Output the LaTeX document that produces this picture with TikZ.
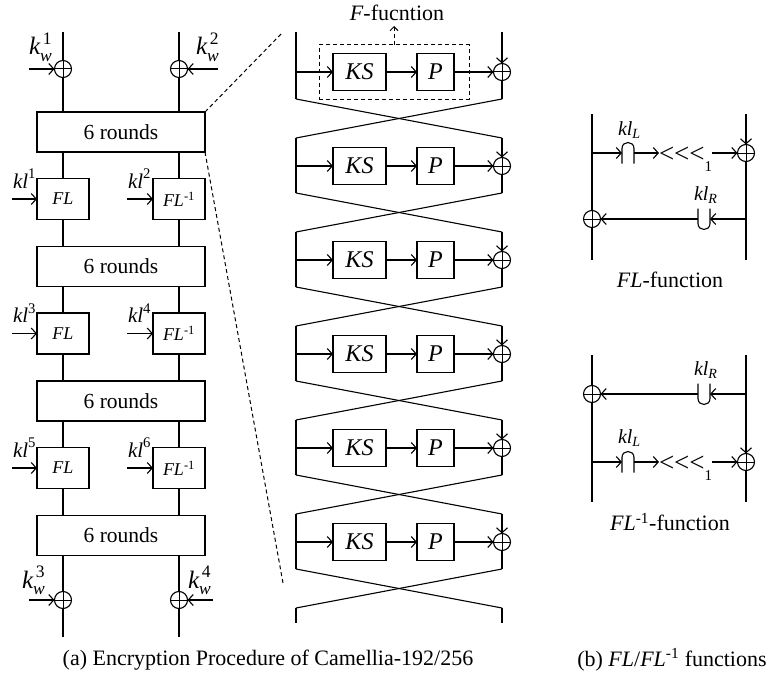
\documentclass[tikz,border=0pt]{standalone}
\usepackage{amsmath}
\usepackage{fontspec}
\setmainfont{Liberation Serif}
\usetikzlibrary{arrows.meta,calc}
\newcommand\fsz[1]{\fontsize{#1}{#1}\selectfont}
\newcommand\capshape[1]{\draw (#1.south west) -- ($(#1.north west)+(0,6)$) .. controls ($(#1.north west)+(0,-2)$) and ($(#1.north east)+(0,-2)$) .. ($(#1.north east)+(0,6)$) -- (#1.south east);}
\newcommand\cupshape[1]{\draw (#1.north west) -- ($(#1.south west)+(0,-6)$) .. controls ($(#1.south west)+(0,2)$) and ($(#1.south east)+(0,2)$) .. ($(#1.south east)+(0,-6)$) -- (#1.north east);}
\newcommand\rotl{<{}<{}<\raisebox{-9pt}{\fsz{15}1}}
\begin{document}
\begin{tikzpicture}[x=1pt,y=-1pt,line width=1.1pt,
  every node/.style={inner sep=0pt,outer sep=0pt},
  ar/.style={-{Straight Barb[length=5pt,width=11pt]}},
  sar/.style={-{Straight Barb[length=4pt,width=8pt]}},
  blk/.style={draw,fill=white},
  rounds/.style={blk,minimum width=168pt,minimum height=40pt,font=\fsz{21.5}},
  flbox/.style={blk,minimum width=52pt,minimum height=41pt,font=\fsz{18}\itshape},
  ksbox/.style={blk,minimum width=53pt,minimum height=37pt,font=\fsz{24}\itshape},
  pbox/.style={blk,minimum width=37pt,minimum height=37pt,font=\fsz{24}\itshape},
  xorc/.style={draw,fill=white,circle,minimum size=17pt,path picture={\draw[line width=1pt] (path picture bounding box.north) -- (path picture bounding box.south) (path picture bounding box.west) -- (path picture bounding box.east);}},
  hole/.style={minimum width=12pt,minimum height=21pt},
  lab/.style={font=\fsz{22}},
  keylab/.style={font=\fsz{25},anchor=base west},
  kllab/.style={font=\fsz{21},anchor=base west},
  dsh/.style={dash pattern=on 4pt off 3pt,line width=1pt},
]
\useasboundingbox (0,0) rectangle (766,677);

% ---------------- left: encryption procedure ----------------
\coordinate (tL) at (63,32);
\coordinate (tR) at (179,32);
\node[xorc] (x1) at (63,69) {};
\node[xorc] (x2) at (179,69) {};
\node[rounds] (r1) at (121,132) {6 rounds};
\node[flbox] (fl1) at (63,199) {FL};
\node[flbox] (fi1) at (179,199) {FL\textsuperscript{\upshape -1}};
\node[rounds] (r2) at (121,266.5) {6 rounds};
\node[flbox] (fl2) at (63,333.5) {FL};
\node[flbox] (fi2) at (179,333.5) {FL\textsuperscript{\upshape -1}};
\node[rounds] (r3) at (121,401) {6 rounds};
\node[flbox] (fl3) at (63,468) {FL};
\node[flbox] (fi3) at (179,468) {FL\textsuperscript{\upshape -1}};
\node[rounds] (r4) at (121,535.5) {6 rounds};
\node[xorc] (x3) at (63,600) {};
\node[xorc] (x4) at (179,600) {};
\coordinate (bL) at (63,637);
\coordinate (bR) at (179,637);

\draw (tL) -- (x1.north);
\draw (tR) -- (x2.north);
\draw (x1.south) -- (x1 |- r1.north);
\draw (x2.south) -- (x2 |- r1.north);
\foreach \a/\b/\c/\n in {r1/fl1/fi1/r2, r2/fl2/fi2/r3, r3/fl3/fi3/r4}{
  \draw (\b |- \a.south) -- (\b.north);
  \draw (\c |- \a.south) -- (\c.north);
  \draw (\b.south) -- (\b |- \n.north);
  \draw (\c.south) -- (\c |- \n.north);
}
\draw (x3 |- r4.south) -- (x3.north);
\draw (x4 |- r4.south) -- (x4.north);
\draw (x3.south) -- (bL);
\draw (x4.south) -- (bR);

% key inputs
\coordinate (k1s) at (29,69);
\coordinate (k2s) at (218,69);
\coordinate (k3s) at (29,600);
\coordinate (k4s) at (213,600);
\draw[ar] (k1s) -- (x1.west);
\draw[ar] (k2s) -- (x2.east);
\draw[ar] (k3s) -- (x3.west);
\draw[ar] (k4s) -- (x4.east);
\node[keylab] (kw1) at (29,55) {$\textit{k}_{\textit{w}}^{\,\text{1}}$};
\node[keylab] (kw2) at (196,55) {$\textit{k}_{\textit{w}}^{\,\text{2}}$};
\node[keylab] (kw3) at (22,588) {$\textit{k}_{\textit{w}}^{\,\text{3}}$};
\node[keylab] (kw4) at (188,588) {$\textit{k}_{\textit{w}}^{\,\text{4}}$};

\foreach \b/\c/\y/\p/\q in {fl1/fi1/199/1/2, fl2/fi2/333.5/3/4, fl3/fi3/468/5/6}{
  \coordinate (ka\p) at (12,\y);
  \coordinate (ka\q) at (127,\y);
  \draw[ar] (ka\p) -- (\b.west);
  \draw[ar] (ka\q) -- (\c.west);
  \node[kllab] (kl\p) at ($(13,\y)+(0,-11)$) {$\textit{kl}^{\text{\p}}$};
  \node[kllab] (kl\q) at ($(128,\y)+(0,-11)$) {$\textit{kl}^{\text{\q}}$};
}

% zoom lines
\coordinate (z1) at (283,32);
\coordinate (z2) at (283,583);
\draw[dsh] (r1.north east) -- (z1);
\draw[dsh] (r1.south east) -- (z2);

% ---------------- middle: six Feistel rounds ----------------
\foreach \i in {0,...,5}{
  \pgfmathsetmacro{\yy}{72+94*\i}
  \pgfmathsetmacro{\yt}{ifthenelse(\i==0,32,\yy-28)}
  \pgfmathsetmacro{\yb}{\yy+27}
  \coordinate (lt\i) at (296,\yt);
  \coordinate (lb\i) at (296,\yb);
  \coordinate (la\i) at (296,\yy);
  \coordinate (rt\i) at (502,\yt);
  \coordinate (rb\i) at (502,\yb);
  \node[ksbox] (ks\i) at (359.5,\yy) {KS};
  \node[pbox] (p\i) at (435.5,\yy) {P};
  \node[xorc] (xr\i) at (502,\yy) {};
  \draw (lt\i) -- (lb\i);
  \draw[ar] (la\i) -- (ks\i.west);
  \draw[ar] (ks\i.east) -- (p\i.west);
  \draw[ar] (p\i.east) -- (xr\i.west);
  \draw[ar] (rt\i) -- (xr\i.north);
  \draw (xr\i.south) -- (rb\i);
}
\coordinate (lt6) at (296,608);
\coordinate (rt6) at (502,608);
\coordinate (le) at (296,623);
\coordinate (re) at (502,623);
\foreach \i [evaluate=\i as \j using int(\i+1)] in {0,...,5}{
  \draw (lb\i) -- (rt\j);
  \draw (rb\i) -- (lt\j);
}
\draw (lt6) -- (le);
\draw (rt6) -- (re);

% F-function box
\node[draw,dsh,minimum width=150pt,minimum height=54pt] (fbox) at (394,72) {};
\coordinate (fa) at (394,26);
\draw[dsh,sar] (fbox.north) -- (fa);
\node[lab] (flab) at (397,13) {\textit{F}-fucntion};

% ---------------- right: FL function ----------------
\coordinate (AlT) at (592,114);
\coordinate (AlB) at (592,260);
\coordinate (ArT) at (746,114);
\coordinate (ArB) at (746,260);
\coordinate (Acs) at (592,153);
\coordinate (Aus) at (746,219);
\node[xorc] (xA) at (746,153) {};
\node[xorc] (xB) at (592,219) {};
\node[hole] (capA) at (628,153) {};
\node[hole] (cupA) at (704,219) {};
\node[font=\fsz{27},anchor=base west] (shA) at (659,162) {\rotl};
\draw (AlT) -- (xB.north);
\draw (xB.south) -- (AlB);
\draw[ar] (ArT) -- (xA.north);
\draw (xA.south) -- (ArB);
\capshape{capA}
\cupshape{cupA}
\draw[ar] (Acs) -- (capA.west);
\draw[ar] (capA.east) -- (shA.west |- capA);
\draw[ar] (shA.east |- capA) -- (xA.west);
\draw[ar] (Aus) -- (cupA.east);
\draw[ar] (cupA.west) -- (xB.east);
\node[kllab,font=\fsz{20}] (klLA) at (618,135) {$\textit{kl}_{\textit{L}}$};
\node[kllab,font=\fsz{20}] (klRA) at (694,200) {$\textit{kl}_{\textit{R}}$};
\node[lab] (capAtxt) at (670,280) {\textit{FL}-function};

% ---------------- right: FL^-1 function ----------------
\coordinate (BlT) at (592,355);
\coordinate (BlB) at (592,502);
\coordinate (BrT) at (746,355);
\coordinate (BrB) at (746,502);
\coordinate (Bcs) at (592,462);
\coordinate (Bus) at (746,394);
\node[xorc] (xC) at (592,394) {};
\node[xorc] (xD) at (746,462) {};
\node[hole] (cupB) at (704,394) {};
\node[hole] (capB) at (628,462) {};
\node[font=\fsz{27},anchor=base west] (shB) at (659,471) {\rotl};
\draw (BlT) -- (xC.north);
\draw (xC.south) -- (BlB);
\draw[ar] (BrT) -- (xD.north);
\draw (xD.south) -- (BrB);
\capshape{capB}
\cupshape{cupB}
\draw[ar] (Bus) -- (cupB.east);
\draw[ar] (cupB.west) -- (xC.east);
\draw[ar] (Bcs) -- (capB.west);
\draw[ar] (capB.east) -- (shB.west |- capB);
\draw[ar] (shB.east |- capB) -- (xD.west);
\node[kllab,font=\fsz{20}] (klRB) at (694,375) {$\textit{kl}_{\textit{R}}$};
\node[kllab,font=\fsz{20}] (klLB) at (618,443) {$\textit{kl}_{\textit{L}}$};
\node[lab] (capBtxt) at (670,522) {\textit{FL}\textsuperscript{-1}-function};

% ---------------- captions ----------------
\node[lab] (capa) at (268,660) {(a) Encryption Procedure of Camellia-192/256};
\node[lab] (capb) at (672,660) {(b) \textit{FL}/\textit{FL}\textsuperscript{-1} functions};
\end{tikzpicture}
\end{document}
